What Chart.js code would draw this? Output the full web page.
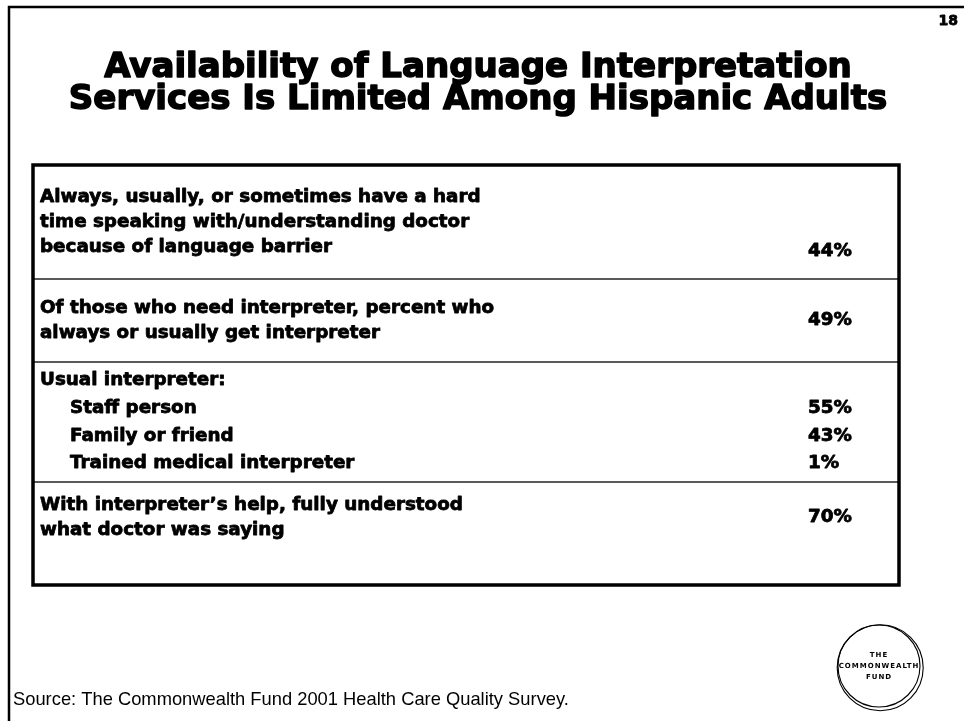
<!DOCTYPE html>
<html>
<head>
<meta charset="utf-8">
<title>Language Interpretation Services</title>
<script src="https://cdn.jsdelivr.net/npm/chart.js@4.4.1/dist/chart.umd.min.js"></script>
<style>
  html, body { margin: 0; padding: 0; background: #fff; }
  #wrap { width: 964px; height: 721px; }
</style>
</head>
<body>
<div id="wrap"><canvas id="myChart" width="964" height="721"></canvas></div>
<script>
// Survey items (one entry per row, each row may wrap over several lines)
const titleLines = ['Availability of Language Interpretation', 'Services Is Limited Among Hispanic Adults'];
const rowLabels = [
    ['Always, usually, or sometimes have a hard', 'time speaking with/understanding doctor', 'because of language barrier'],
    ['Of those who need interpreter, percent who', 'always or usually get interpreter'],
    ['Usual interpreter:'],
    ['Staff person'],
    ['Family or friend'],
    ['Trained medical interpreter'],
    ['With interpreter\u2019s help, fully understood', 'what doctor was saying']
];
const rowValues = [44, 49, null, 55, 43, 1, 70]; // percent of Hispanic adults
const groupOf = [0, 1, 2, 2, 2, 2, 3];          // which boxed block a row sits in
const sourceNote = 'Source: The Commonwealth Fund 2001 Health Care Quality Survey.';
const slideNumber = '18';

// table layout, in pixels measured from the table's top-left corner
const tableBox = { left: 33, top: 165, right: 899, bottom: 585 };
const groupHeights = [114, 83, 120, 103];
const groupPitch = [25, 25, 27.7, 25];
const groupBottomGap = [0, 0, 0, 32];
const rowIndent = [0, 0, 0, 1, 1, 1, 0];
const valueOnLastLine = [1, 0, 0, 0, 0, 0, 0];
const labelX = 7, indentX = 37, valueX = 775;

const FACE = '"DejaVu Sans", sans-serif';
const PLAIN = '"Liberation Sans", Arial, sans-serif';

// line positions for every row
const rowLineY = [];
let groupTop = 0;
const groupEdges = [0];
groupHeights.forEach((h, g) => {
    const rows = rowLabels.map((_, i) => i).filter(i => groupOf[i] === g);
    const n = rows.reduce((s, i) => s + rowLabels[i].length, 0);
    const p = groupPitch[g];
    let y = groupTop + (h - groupBottomGap[g]) / 2 - (n - 1) * p / 2;
    rows.forEach(i => {
        rowLineY[i] = rowLabels[i].map((_, k) => y + k * p);
        y += rowLabels[i].length * p;
    });
    groupTop += h;
    groupEdges.push(groupTop);
});

const points = [];
rowValues.forEach((v, i) => {
    if (v === null) return;
    const ys = rowLineY[i];
    const y = valueOnLastLine[i] ? ys[ys.length - 1] + 4 : (ys[0] + ys[ys.length - 1]) / 2;
    points.push({ x: valueX, y: y, row: i });
});

// size a font so a sample string spans the wanted width
const measurer = document.createElement('canvas').getContext('2d');
function fitSize(text, weight, family, width, extra) {
    measurer.font = `${weight} 100px ${family}`;
    return 100 * (width - (extra || 0)) / measurer.measureText(text).width;
}
const titleSize = (fitSize(titleLines[0], 'bold', FACE, 761, 2) + fitSize(titleLines[1], 'bold', FACE, 809, 2)) / 2;
const rowSize = fitSize(rowLabels[0][0], 'bold', FACE, 442, 1);
const sourceSize = fitSize(sourceNote, 'normal', PLAIN, 556);

// heavy black lettering: fill plus a thin outline of the same colour
function heavyText(ctx, text, x, y, weight) {
    ctx.lineWidth = weight;
    ctx.lineJoin = 'round';
    ctx.strokeText(text, x, y);
    ctx.fillText(text, x, y);
}

const slideDecor = {
    id: 'slideDecor',
    beforeDraw(chart) {
        const ctx = chart.ctx;
        ctx.save();
        ctx.fillStyle = '#fff';
        ctx.fillRect(0, 0, chart.width, chart.height);

        // page frame
        ctx.strokeStyle = '#000';
        ctx.lineWidth = 2.5;
        ctx.beginPath();
        ctx.moveTo(9, chart.height);
        ctx.lineTo(9, 7);
        ctx.lineTo(chart.width, 7);
        ctx.stroke();

        ctx.fillStyle = '#000';
        ctx.textBaseline = 'middle';
        ctx.textAlign = 'right';
        ctx.font = `bold 14px ${FACE}`;
        heavyText(ctx, slideNumber, 958, 21, 0.8);

        ctx.textAlign = 'center';
        ctx.font = `bold ${titleSize}px ${FACE}`;
        titleLines.forEach((t, k) => heavyText(ctx, t, 478, 68 + k * 32, 1.5));

        ctx.textAlign = 'left';
        ctx.font = `normal ${sourceSize}px ${PLAIN}`;
        ctx.fillText(sourceNote, 13, 700);

        // Commonwealth Fund seal
        const cx = 879, cy = 666;
        ctx.lineWidth = 1.1;
        ctx.beginPath();
        ctx.arc(cx, cy, 41, 0, Math.PI * 2);
        ctx.stroke();
        ctx.beginPath();
        ctx.arc(cx + 1.2, cy + 1.8, 43, 0, Math.PI * 2);
        ctx.stroke();
        ctx.textAlign = 'center';
        ctx.font = `bold 7px ${FACE}`;
        ctx.letterSpacing = '1px';
        ctx.fillText('THE', cx, cy - 11);
        ctx.fillText('COMMONWEALTH', cx, cy);
        ctx.fillText('FUND', cx, cy + 11);
        ctx.letterSpacing = '0px';
        ctx.restore();
    },
    afterDatasetsDraw(chart) {
        const ctx = chart.ctx;
        const xs = chart.scales.x, ys = chart.scales.y;
        const a = chart.chartArea;
        ctx.save();

        // block separators
        ctx.strokeStyle = '#222';
        ctx.lineWidth = 1.6;
        groupEdges.slice(1, -1).forEach(e => {
            const y = ys.getPixelForValue(e);
            ctx.beginPath();
            ctx.moveTo(a.left, y);
            ctx.lineTo(a.right, y);
            ctx.stroke();
        });

        // outer box
        ctx.strokeStyle = '#000';
        ctx.lineWidth = 3.5;
        ctx.strokeRect(a.left, a.top, a.right - a.left, a.bottom - a.top);

        ctx.fillStyle = '#000';
        ctx.textBaseline = 'middle';
        ctx.textAlign = 'left';
        ctx.font = `bold ${rowSize}px ${FACE}`;
        rowLabels.forEach((lines, i) => {
            const x = xs.getPixelForValue(rowIndent[i] ? indentX : labelX);
            lines.forEach((t, k) => heavyText(ctx, t, x, ys.getPixelForValue(rowLineY[i][k]), 0.8));
        });

        // percentages at the scatter points
        const meta = chart.getDatasetMeta(0);
        meta.data.forEach((pt, j) => {
            const v = rowValues[points[j].row];
            heavyText(ctx, v + '%', pt.x, pt.y, 0.8);
        });
        ctx.restore();
    }
};

const ctx = document.getElementById('myChart').getContext('2d');
const myChart = new Chart(ctx, {
    type: 'scatter',
    data: {
        datasets: [{
            label: 'Percent',
            data: points,
            pointRadius: 0,
            pointHoverRadius: 0
        }]
    },
    options: {
        responsive: false,
        animation: false,
        layout: {
            padding: {
                left: tableBox.left,
                top: tableBox.top,
                right: 964 - tableBox.right,
                bottom: 721 - tableBox.bottom
            }
        },
        plugins: {
            legend: { display: false },
            tooltip: { enabled: false },
            title: { display: false }
        },
        scales: {
            x: { type: 'linear', display: false, min: 0, max: tableBox.right - tableBox.left },
            y: { type: 'linear', display: false, reverse: true, min: 0, max: groupTop }
        }
    },
    plugins: [slideDecor]
});
</script>
</body>
</html>
